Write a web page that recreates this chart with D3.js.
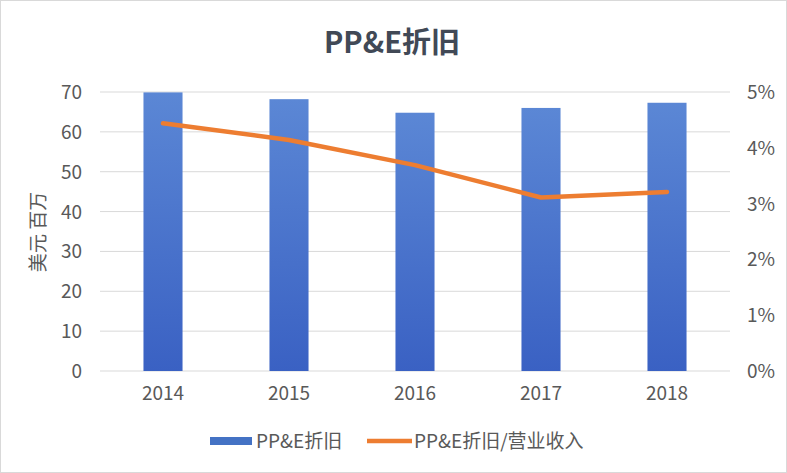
<!DOCTYPE html>
<html><head><meta charset="utf-8">
<script src="https://cdn.jsdelivr.net/npm/d3@7/dist/d3.min.js"></script>
<style>body{margin:0;background:#fff;}svg{display:block;font-family:"Noto Sans CJK SC","Open Sans",sans-serif;}</style>
</head><body><svg id="c" width="787" height="473"></svg>
<script>
const years = ["2014","2015","2016","2017","2018"];
const depreciation = [69.9, 68.2, 64.8, 66.0, 67.3];
const ratio = [4.44, 4.14, 3.69, 3.11, 3.21];
const leftTicks = [0,10,20,30,40,50,60,70];
const rightTicks = [0,1,2,3,4,5];
const title = "PP&E折旧";
const yTitle = "美元 百万";
const seriesNames = ["PP&E折旧","PP&E折旧/营业收入"];

const svg = d3.select("#c");
const W = 787, H = 473;
const m = {l:100, r:57, t:92, b:102};
svg.append("rect").attr("x",0.5).attr("y",0.5).attr("width",W-1).attr("height",H-1)
  .attr("fill","#fff").attr("stroke","#d9d9d9");

const defs = svg.append("defs");
const g = defs.append("linearGradient").attr("id","bg").attr("x1",0).attr("y1",0).attr("x2",0).attr("y2",1);
g.append("stop").attr("offset","0%").attr("stop-color","#5B87D5");
g.append("stop").attr("offset","100%").attr("stop-color","#3A61C3");

const x = d3.scaleBand().domain(years).range([m.l, W-m.r]).paddingInner(0.69).paddingOuter(0.345);
const y = d3.scaleLinear().domain([0,70]).range([H-m.b, m.t]);
const y2 = d3.scaleLinear().domain([0,5]).range([H-m.b, m.t]);

// grid
svg.append("g").selectAll("line").data(leftTicks).join("line")
  .attr("x1",m.l).attr("x2",W-m.r).attr("y1",d=>y(d)).attr("y2",d=>y(d))
  .attr("stroke","#d9d9d9").attr("stroke-width",1);

// left axis
const la = svg.append("g").attr("transform",`translate(${m.l-18},0)`)
  .call(d3.axisLeft(y).tickValues(leftTicks).tickSize(0).tickPadding(0));
la.select(".domain").remove();
la.selectAll("text").attr("font-size",19).attr("fill","#595959").attr("dy","0.34em")
  .attr("font-family","'Noto Sans CJK SC',sans-serif");

// right axis
const ra = svg.append("g").attr("transform",`translate(${W-m.r+17},0)`)
  .call(d3.axisRight(y2).tickValues(rightTicks).tickFormat(d=>d+"%").tickSize(0).tickPadding(0));
ra.select(".domain").remove();
ra.selectAll("text").attr("font-size",19).attr("fill","#595959").attr("dy","0.34em")
  .attr("font-family","'Noto Sans CJK SC',sans-serif");

// x axis
const xa = svg.append("g").attr("transform",`translate(0,${H-m.b+26})`)
  .call(d3.axisBottom(x).tickSize(0).tickPadding(0));
xa.select(".domain").remove();
xa.selectAll("text").attr("font-size",19).attr("fill","#595959").attr("dy","0.15em")
  .attr("font-family","'Noto Sans CJK SC',sans-serif");

// bars
svg.append("g").selectAll("rect").data(depreciation).join("rect")
  .attr("x",(d,i)=>x(years[i])).attr("width",x.bandwidth())
  .attr("y",d=>y(d)).attr("height",d=>y(0)-y(d)).attr("fill","url(#bg)");

// line
const line = d3.line().x((d,i)=>x(years[i])+x.bandwidth()/2).y(d=>y2(d));
svg.append("path").datum(ratio).attr("d",line).attr("fill","none")
  .attr("stroke","#ED7D31").attr("stroke-width",4.5).attr("stroke-linecap","round").attr("stroke-linejoin","round");

// title
svg.append("text").attr("x",392).attr("y",53).attr("text-anchor","middle")
  .attr("font-size",29).attr("font-weight","bold").attr("fill","#414956")
  .text(title);

// y title
svg.append("text").attr("transform","translate(45,232) rotate(-90)").attr("text-anchor","middle")
  .attr("font-size",19).attr("fill","#595959").text(yTitle);

// legend
const lg = svg.append("g");
lg.append("rect").attr("x",210).attr("y",437).attr("width",42).attr("height",8).attr("fill","#4472C4");
lg.append("text").attr("x",256).attr("y",448).attr("font-size",19).attr("fill","#595959").text(seriesNames[0]);
lg.append("line").attr("x1",367).attr("x2",412).attr("y1",441).attr("y2",441).attr("stroke","#ED7D31").attr("stroke-width",4.5);
lg.append("text").attr("x",414).attr("y",448).attr("font-size",19).attr("fill","#595959").text(seriesNames[1]);
</script></body></html>
